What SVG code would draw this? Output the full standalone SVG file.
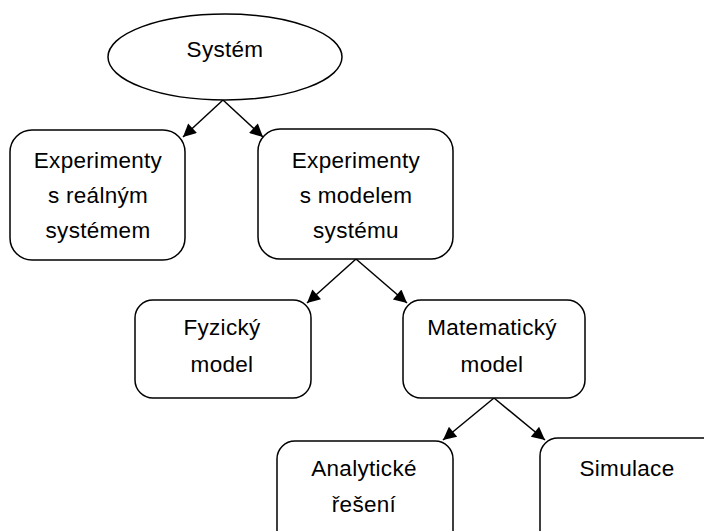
<svg xmlns="http://www.w3.org/2000/svg" width="704" height="531" viewBox="0 0 704 531">
<style>
.n{fill:#fff;stroke:#000;stroke-width:1.5}
.t{font-family:"Liberation Sans",Arial,sans-serif;font-size:22.5px;letter-spacing:0.3px;fill:#000;text-anchor:middle}
.c{stroke:#000;stroke-width:1.5;fill:none;marker-end:url(#ah)}
</style>
<defs>
<marker id="ah" viewBox="0 0 10 10" refX="10" refY="5" markerWidth="16" markerHeight="13" markerUnits="userSpaceOnUse" orient="auto">
<path d="M0,0 L10,5 L0,10 z" fill="#000"/>
</marker>
</defs>
<rect width="704" height="531" fill="#fff"/>
<g id="connectors">
<line class="c" x1="223" y1="100" x2="183" y2="137"/>
<line class="c" x1="223" y1="100" x2="263" y2="137"/>
<line class="c" x1="356" y1="259" x2="307" y2="303"/>
<line class="c" x1="356" y1="259" x2="407" y2="303"/>
<line class="c" x1="494" y1="398" x2="443" y2="440"/>
<line class="c" x1="494" y1="398" x2="545" y2="440"/>
</g>
<g id="system">
<ellipse class="n" cx="225" cy="57" rx="117" ry="43"/>
<text class="t" x="225" y="57">Systém</text>
</g>
<g id="real">
<rect class="n" x="10" y="130" width="175" height="130" rx="22"/>
<text class="t" x="98" y="168">Experimenty</text>
<text class="t" x="98" y="203">s reálným</text>
<text class="t" x="98" y="238">systémem</text>
</g>
<g id="modelsys">
<rect class="n" x="258" y="129" width="195" height="130" rx="22"/>
<text class="t" x="356" y="168">Experimenty</text>
<text class="t" x="356" y="203">s modelem</text>
<text class="t" x="356" y="238">systému</text>
</g>
<g id="fyzicky">
<rect class="n" x="135" y="300" width="176" height="98" rx="18"/>
<text class="t" x="222" y="335">Fyzický</text>
<text class="t" x="222" y="372">model</text>
</g>
<g id="matematicky">
<rect class="n" x="403" y="300" width="182" height="98" rx="18"/>
<text class="t" x="492" y="335">Matematický</text>
<text class="t" x="492" y="372">model</text>
</g>
<g id="analyticke">
<rect class="n" x="277" y="441" width="176" height="110" rx="18"/>
<text class="t" x="364" y="476">Analytické</text>
<text class="t" x="364" y="512">řešení</text>
</g>
<g id="simulace">
<rect class="n" x="540" y="438" width="184" height="113" rx="18"/>
<text class="t" x="627" y="476">Simulace</text>
</g>
</svg>
